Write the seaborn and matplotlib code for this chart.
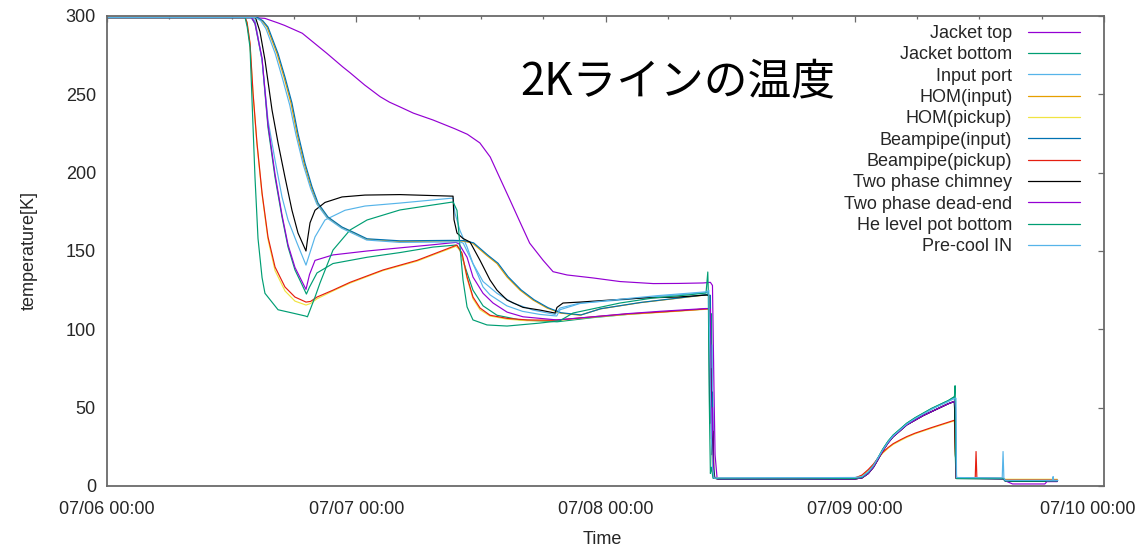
import matplotlib
matplotlib.use("Agg")
import matplotlib.pyplot as plt
import matplotlib.dates as mdates
import matplotlib.transforms as mtransforms
from matplotlib.lines import Line2D
import pandas as pd
import seaborn as sns

# ---------------- data (hours since 07/06 00:00, temperature in K) ----------------
series_names = ["Jacket top", "Jacket bottom", "Input port", "HOM(input)", "HOM(pickup)",
                "Beampipe(input)", "Beampipe(pickup)", "Two phase chimney",
                "Two phase dead-end", "He level pot bottom", "Pre-cool IN"]
series_colors = ["#9400d3", "#009e73", "#56b4e9", "#e69f00", "#f0e442", "#0072b2",
                 "#e51e10", "#000000", "#9400d3", "#009e73", "#56b4e9"]

# shared warm-up time grid (after the 2K transfer)
tail_hours = [59.0, 66.0, 72.0, 72.7, 73.3, 73.8, 74.2, 74.7, 75.2, 75.7, 76.4, 77.0,
              77.8, 78.6, 79.4, 80.2, 81.0, 81.6]
tail_green = [4.6, 4.5, 4.8, 5.6, 8.8, 13, 17.5, 23.5, 28.5, 32.5, 36.5, 40, 43.5, 46.5, 49.5, 52, 54.5, 57]
tail_lb = [5.2, 5.3, 5.4, 6, 9, 13, 17.5, 23, 28, 32, 36, 39.5, 43, 46, 49, 51.5, 54, 56]
tail_dark = [4.4, 4.3, 4.5, 5.2, 8, 12, 16.5, 22.5, 27.5, 31.5, 35.5, 39, 42, 45, 47.5, 50, 52.5, 54]
tail_red = [4.8, 4.7, 5.0, 7, 10.5, 14, 17.5, 21.5, 24.5, 27, 29.5, 31.5, 33.7, 35.5, 37.3, 39, 40.7, 42]
tail_yellow = [4.9, 4.8, 5.0, 6.8, 10, 13.5, 17, 21, 24, 26.5, 29, 31, 33.3, 35.1, 36.9, 38.6, 40.3, 41.6]

jt_h = [0, 14.0, 15.2, 16.5, 17.1, 18.8, 21.2, 22.7, 23.4, 24.8, 25.6, 26.3, 27.2, 28.2, 29.5, 31.4, 33.5,
        34.7, 35.9, 36.9, 37.8, 38.8, 39.8, 40.7, 42.0, 42.95, 44.3, 46.8, 49.4, 52.6, 55.0, 57.4, 58.1,
        58.3, 58.45, 58.55, 58.75]
jt_t = [299, 299, 298.5, 295.5, 294, 289, 276, 267.5, 263.8, 256, 252, 248.5, 245, 242, 238, 233.6, 228,
        224.5, 219, 210, 197, 182.6, 168, 155, 144, 136.8, 134.7, 132.8, 130.5, 129.2, 129.3, 129.6, 130,
        128, 60, 20, 4.5]
jt_end_h = [81.7, 81.8, 86.3, 86.5, 91.5]
jt_end_t = [30, 5, 4.6, 3.3, 3.3]

jb_h = [0, 13.9, 14.25, 14.93, 15.5, 16.18, 16.85, 17.43, 18.1, 18.78, 19.2, 19.5, 20.22, 21.76, 25.04,
        28.21, 31.39, 33.6, 33.99, 34.47, 35.24, 36.21, 37.55, 39.77, 43.33, 46.8, 50.07, 53.25, 57.7,
        57.95, 58.1, 58.2, 58.3, 58.45]
jb_t = [299, 299, 295, 272, 229, 197, 171.7, 152.6, 137.9, 128.5, 122.5, 127, 136, 142, 146,
        149, 152.5, 153.8, 151, 140, 125, 115, 109, 106, 104.8, 107.5, 109.5, 111, 113,
        113.5, 90, 110, 20, 5]
jb_end_h = [81.68, 81.75, 86.3, 86.5, 91.5]
jb_end_t = [20, 4.8, 4.7, 3.0, 3.0]

ip_h = [0, 13.9, 14.25, 14.93, 15.5, 16.18, 16.85, 17.43, 18.3, 19.16, 20.03, 20.99, 22.92, 24.84, 28.21,
        33.32, 33.51, 33.99, 34.67, 35.24, 36.21, 37.55, 39.09, 41.02, 43.14, 43.62, 45.55, 49.4, 53.0,
        57.8, 58.0, 58.15, 58.25, 58.35, 58.5]
ip_t = [299, 299, 297, 272, 233.6, 208, 184.5, 169.8, 155, 141, 159, 169.8, 176, 178.7, 180.6,
        183.8, 174, 163, 152.6, 142, 130.5, 123, 116.8, 112.3, 109.5, 113.6, 116.8, 118.7, 121,
        123.5, 121, 70, 90, 15, 5]
ip_end_h = [81.7, 81.78, 86.3, 86.5, 91.5]
ip_end_t = [25, 5.2, 5.0, 3.6, 3.6]

hi_h = [0, 14.4, 14.9, 15.4, 16.37, 17.04, 17.71, 18.29, 18.97, 19.64, 20.22, 21.18, 22.53, 23.78, 24.94,
        28.21, 33.3, 34.3, 35.2, 35.9, 36.6, 37.55, 38.52, 39.77, 41.02, 42.37, 43.62, 45.55, 47.47,
        51.33, 55.18, 57.7, 58.05, 58.15, 58.25, 58.35, 58.5]
hi_t = [299, 299, 297, 293, 276, 261, 244.5, 225, 206, 191, 180.6, 171.7, 165.3, 161.5, 157.5,
        156, 156.4, 156.3, 155, 151, 147, 142, 133.4, 125, 118.7, 113.6, 110.4, 109, 113,
        117, 120, 122, 121.5, 45, 30, 8, 5]
hi_end_h = [81.7, 81.78, 86.3, 86.5, 91.5]
hi_end_t = [20, 5, 4.8, 4.0, 4.0]

hp_h = [0, 13.3, 13.5, 13.77, 14.06, 14.44, 14.93, 15.5, 16.18, 17.14, 18.1, 19.16, 19.6, 20.22, 21.76,
        23.4, 26.58, 29.85, 33.6, 33.85, 34.18, 34.67, 35.24, 35.92, 36.88, 38.52, 40.44, 42.95, 44.29,
        46.8, 50.07, 53.25, 57.7, 58.05, 58.2, 58.3, 58.45]
hp_t = [299, 299, 295.5, 282, 250, 218, 186, 157.5, 137.5, 124.5, 118, 115.5, 116.5, 119.5, 124.5,
        129.5, 137.5, 143.5, 153, 151.5, 148, 132.5, 119.5, 112.5, 108.5, 106.5, 105.5, 105.5, 106.2,
        107.8, 109.5, 110.8, 112.8, 112.5, 40, 10, 5]
hp_end_h = [81.7, 81.78, 86.3, 86.5, 91.5]
hp_end_t = [20, 5, 4.9, 4.3, 4.3]

bi_h = [0, 14.5, 15.0, 15.5, 16.47, 17.14, 17.81, 18.39, 19.07, 19.74, 20.32, 21.28, 22.63, 23.88, 25.04,
        28.21, 33.3, 34.4, 35.3, 36.0, 36.7, 37.65, 38.62, 39.87, 41.12, 42.47, 43.72, 45.65, 47.57,
        51.43, 55.28, 57.7, 58.1, 58.2, 58.3, 58.4, 58.55]
bi_t = [299, 299, 297, 293, 276, 261, 244.5, 225, 206, 191, 180.6, 171.7, 165.3, 161.5, 157.8,
        156.5, 156.8, 156.6, 155.2, 151.2, 147.2, 142.2, 133.6, 125.2, 118.9, 113.8, 110.6, 109.2, 113.2,
        117.2, 120.2, 122.2, 121.7, 40, 60, 10, 5]
bi_end_h = [81.7, 81.78, 86.3, 86.5, 91.5]
bi_end_t = [20, 5, 4.8, 3.4, 3.4]

bp_h = [0, 13.3, 13.48, 13.77, 14.06, 14.44, 14.93, 15.5, 16.18, 17.14, 18.1, 19.16, 19.6, 20.22, 21.76,
        23.4, 26.58, 29.85, 33.7, 33.85, 34.18, 34.67, 35.24, 35.92, 36.88, 38.52, 40.44, 42.95, 44.29,
        46.8, 50.07, 53.25, 57.7, 58.0, 58.15, 58.25, 58.35, 58.5]
bp_t = [299, 299, 296, 282.8, 251, 219, 187, 159, 139.8, 127, 120.6, 117.4, 117.8, 120.6, 125,
        130, 137.9, 144, 153.8, 152, 148.7, 133.4, 120.6, 113.6, 109, 107, 106, 105.8, 106.5,
        108, 109.8, 111, 113, 113.2, 55, 35, 10, 5]
bp_end_h = [81.7, 81.78, 83.6, 83.68, 83.76, 86.3, 86.5, 91.5]
bp_end_t = [20, 5, 5, 22, 5, 4.8, 3.8, 3.8]

tc_h = [0, 14.3, 14.73, 15.21, 15.89, 16.47, 17.14, 17.81, 18.39, 19.16, 19.3, 19.55, 20.03, 20.99, 22.63,
        24.84, 28.2, 33.32, 33.41, 33.7, 34.28, 34.96, 35.92, 36.88, 37.55, 38.52, 40.06, 41.69, 43.14,
        43.33, 43.91, 45.55, 48.43, 51.61, 54.89, 57.78, 57.95, 58.05, 58.15, 58.25, 58.35, 58.45]
tc_t = [299, 299, 290, 272, 240, 219, 197, 176, 161.5, 150, 157, 168, 176, 181, 184.5,
        185.7, 186, 185, 170, 161.5, 158, 155.7, 144, 131.5, 125, 118.7, 114, 112.3, 110.4,
        114, 116.8, 117.4, 118.7, 120, 120.6, 121.9, 121.5, 40, 75, 20, 35, 5]
tc_end_h = [81.7, 81.78, 86.3, 86.5, 91.5]
tc_end_t = [20, 4.8, 4.6, 3.2, 3.2]

de_h = [0, 13.9, 14.25, 14.93, 15.5, 16.18, 16.85, 17.43, 18.1, 18.78, 19.16, 19.5, 20.03, 21.76, 25.04,
        28.21, 31.39, 33.6, 33.9, 34.67, 35.24, 36.21, 37.17, 38.52, 40.06, 43.33, 46.8, 50.07, 53.25,
        57.7, 58.1, 58.2, 58.3, 58.4]
de_t = [299, 299, 295.5, 273, 231, 199, 173, 154, 139.5, 130.5, 125.5, 135, 144, 147.5, 150,
        152, 154, 155.5, 154.5, 146, 133.4, 123, 116.8, 111, 108, 106, 108, 110, 111.5,
        113.3, 113, 30, 50, 5]
de_end_h = [81.7, 81.78, 86.3, 86.5, 87.2, 90.3, 90.5, 91.5]
de_end_t = [50, 5, 4.7, 3.3, 1.3, 1.3, 2.8, 2.8]

hl_h = [0, 13.3, 13.5, 13.77, 14.0, 14.25, 14.54, 14.93, 15.21, 16.47, 17.8, 19.1, 19.3, 20.03, 20.51,
        21.76, 23.4, 25.04, 28.21, 31.39, 33.32, 33.7, 33.99, 34.28, 34.67, 35.24, 36.59, 38.52, 41.69,
        43.62, 44.87, 46.22, 49.4, 52.58, 55.85, 57.68, 57.85, 57.9, 57.98, 58.1, 58.2, 58.35]
hl_t = [299, 299, 293, 280, 240, 197, 158, 133, 123, 112.5, 110.5, 108.5, 108, 120.6, 129.6,
        150.6, 163.4, 169.8, 176.2, 179.4, 181.3, 176, 152.6, 131.5, 114.3, 106, 102.8, 102.1, 104,
        105.5, 110.4, 112.3, 116.8, 120, 121.9, 123.2, 136.6, 123, 60, 8, 12, 5]
hl_end_h = [81.66, 81.72, 81.8, 86.3, 86.5, 91.5]
hl_end_t = [64, 20, 4.8, 4.7, 3.2, 3.2]

pc_h = [0, 14.3, 14.8, 15.3, 16.2, 16.9, 17.6, 18.2, 18.9, 19.6, 20.2, 21.2, 22.6, 23.9, 25.0,
        28.2, 33.3, 34.0, 34.3, 34.96, 35.63, 36.21, 36.88, 38.5, 40.0, 41.7, 43.3, 43.62, 45.55,
        49.4, 53.0, 57.8, 57.95, 58.1, 58.2, 58.3, 58.45]
pc_t = [299, 299, 297, 292, 276, 260, 243, 224, 205, 190, 180, 171, 164.5, 160.5, 157,
        155.5, 155.8, 155.8, 155, 146, 136, 127, 122, 115, 111.5, 109.5, 108.5, 112.5, 116.5,
        119.2, 121.5, 124, 125, 60, 30, 12, 5]
pc_end_h = [81.75, 81.8, 86.2, 86.28, 86.36, 86.5, 91.05, 91.1, 91.15, 91.57]
pc_end_t = [56, 5.4, 5.2, 22, 5, 3.6, 3.6, 6, 3.6, 3.6]

series_parts = [
    (jt_h, jt_t, tail_dark, jt_end_h, jt_end_t),
    (jb_h, jb_t, tail_green, jb_end_h, jb_end_t),
    (ip_h, ip_t, tail_lb, ip_end_h, ip_end_t),
    (hi_h, hi_t, tail_dark, hi_end_h, hi_end_t),
    (hp_h, hp_t, tail_yellow, hp_end_h, hp_end_t),
    (bi_h, bi_t, tail_dark, bi_end_h, bi_end_t),
    (bp_h, bp_t, tail_red, bp_end_h, bp_end_t),
    (tc_h, tc_t, tail_dark, tc_end_h, tc_end_t),
    (de_h, de_t, tail_dark, de_end_h, de_end_t),
    (hl_h, hl_t, tail_green, hl_end_h, hl_end_t),
    (pc_h, pc_t, tail_lb, pc_end_h, pc_end_t),
]

# ---------------- build long table ----------------
base = pd.Timestamp("2015-07-06 00:00")
frames = []
for name, (hh, tt, tail_t, eh, et) in zip(series_names, series_parts):
    hours = hh + tail_hours + eh
    temps = tt + tail_t + et
    assert len(hours) == len(temps), (name, len(hours), len(temps))
    frames.append(pd.DataFrame({"series": name, "hours": hours, "temp": temps}))
df = pd.concat(frames, ignore_index=True)
df["time"] = base + pd.to_timedelta(df["hours"], unit="h")

# ---------------- figure ----------------
sns.set_theme(style="white")
plt.rcParams["font.family"] = ["Liberation Sans", "DejaVu Sans"]

W, H = 1139, 548
fig = plt.figure(figsize=(W / 100, H / 100), dpi=100)
L, R, T, B = 107, 1104, 16, 486
ax = fig.add_axes([L / W, 1 - B / H, (R - L) / W, (B - T) / H])

palette = dict(zip(series_names, series_colors))
sns.lineplot(data=df, x="time", y="temp", hue="series", hue_order=series_names,
             palette=palette, sort=False, estimator=None, linewidth=0.85,
             legend=False, ax=ax)

ax.set_xlim(base, base + pd.Timedelta(days=4))
ax.set_ylim(0, 300)
ax.set_yticks([0, 50, 100, 150, 200, 250, 300])
ax.xaxis.set_major_locator(mdates.DayLocator())
ax.xaxis.set_major_formatter(mdates.DateFormatter("%m/%d %H:%M"))
ax.xaxis.set_minor_locator(mdates.HourLocator(byhour=[6, 12, 18]))

FS = 13
text_col = "#262626"
axis_col = "#6a6a6a"
ax.tick_params(which="both", direction="in", top=True, right=True, color=axis_col,
               labelcolor=text_col, labelsize=FS)
ax.tick_params(which="major", length=4.5, width=0.9)
ax.tick_params(which="minor", length=2.3, width=0.9)
ax.tick_params(axis="x", which="major", pad=10.5)
ax.tick_params(axis="y", which="major", pad=8)
for s in ax.spines.values():
    s.set_color(axis_col)
    s.set_linewidth(1.3)

# keep the last date label inside the canvas, as in the original
fig.canvas.draw()
last_lab = ax.get_xticklabels()[-1]
last_lab.set_transform(last_lab.get_transform() +
                       mtransforms.ScaledTranslation(-16 / 100, 0, fig.dpi_scale_trans))

ax.set_xlabel("Time", fontsize=FS, color=text_col)
ax.set_ylabel("temperature[K]", fontsize=FS, color=text_col)
ax.xaxis.set_label_coords((602 - L) / (R - L), (B - 531) / (B - T))
ax.yaxis.set_label_coords((38 - L) / (R - L), 0.5)

handles = [Line2D([0], [0], color=c, lw=0.9) for c in series_colors]
leg = ax.legend(handles, series_names, loc="upper right",
                bbox_to_anchor=(1080 / W, 1 - 25 / H), bbox_transform=fig.transFigure,
                frameon=False, markerfirst=False, handlelength=2.9, handletextpad=0.85,
                labelspacing=0.24, borderpad=0, borderaxespad=0, fontsize=FS)
for t in leg.get_texts():
    t.set_color(text_col)

fig.text(520 / W, 1 - 81 / H, "2Kラインの温度", fontsize=31.5, color="black",
         family=["Noto Sans CJK JP", "DejaVu Sans"], ha="left", va="center")

fig.savefig("out.png", dpi=100)
